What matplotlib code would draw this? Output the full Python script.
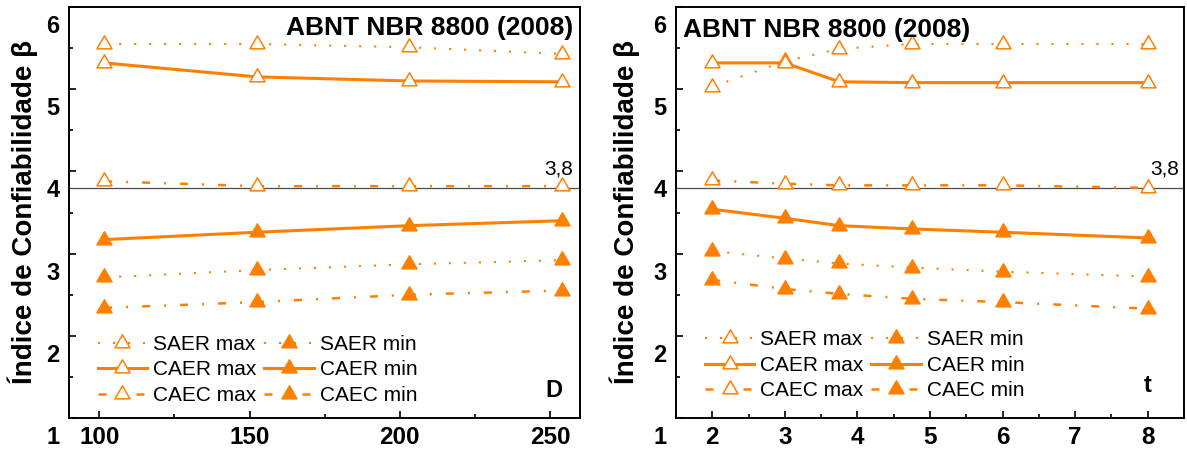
import matplotlib
matplotlib.use("Agg")
import matplotlib.pyplot as plt
import matplotlib.transforms as mtransforms
from matplotlib.path import Path
from matplotlib.ticker import MultipleLocator, FixedLocator

plt.rcParams['font.family'] = ['Liberation Sans', 'DejaVu Sans']

# Diameter D (mm) panel
D = [101.6, 152.4, 203.2, 254.0]
d_saer_max = [5.55, 5.55, 5.51, 5.43]
d_caer_max = [5.32, 5.15, 5.10, 5.09]
d_caec_max = [3.88, 3.82, 3.82, 3.82]
d_saer_min = [2.71, 2.80, 2.87, 2.92]
d_caer_min = [3.17, 3.26, 3.34, 3.40]
d_caec_min = [2.34, 2.41, 2.50, 2.55]

# Wall thickness t panel
T = [2, 3, 3.75, 4.75, 6, 8]
t_saer_max = [5.03, 5.34, 5.49, 5.55, 5.55, 5.55]
t_caer_max = [5.32, 5.32, 5.09, 5.08, 5.08, 5.08]
t_caec_max = [3.89, 3.85, 3.83, 3.83, 3.83, 3.80]
t_saer_min = [3.03, 2.94, 2.88, 2.83, 2.78, 2.72]
t_caer_min = [3.54, 3.43, 3.34, 3.30, 3.26, 3.19]
t_caec_min = [2.68, 2.57, 2.51, 2.45, 2.41, 2.33]

beta_target = 3.8
y_ticks = [1, 2, 3, 4, 5, 6]
d_ticks = [100, 150, 200, 250]
t_ticks = [2, 3, 4, 5, 6, 7, 8]

ORANGE = '#FF8000'

# triangle centred on its centroid
TRI = Path([(0, 8.667), (-7.5, -4.333), (7.5, -4.333), (0, 8.667)],
           [Path.MOVETO, Path.LINETO, Path.LINETO, Path.CLOSEPOLY])

LINE = {
    'SAER': dict(ls=(0, (1, 6.2)), lw=1.5),
    'CAER': dict(ls='-', lw=2.2),
    'CAEC': dict(ls=(0, (3.2, 5.6, 0.8, 5.6)), lw=1.8),
}

fig = plt.figure(figsize=(11.87, 4.55), dpi=100)
W, H = 1187, 455
ax1 = fig.add_axes([69.3 / W, 1 - 418 / H, 510.7 / W, 411 / H])
ax2 = fig.add_axes([676 / W, 1 - 418 / H, 508 / W, 411 / H])


def draw_series(ax, x, data):
    handles = []
    for name, kind, vals in data:
        filled = kind == 'min'
        h, = ax.plot(x, vals, color=ORANGE, marker=TRI, ms=12.5,
                     mfc=ORANGE if filled else 'white', mec=ORANGE, mew=1.1,
                     label=f'{name} {kind}', zorder=3, **LINE[name])
        handles.append(h)
    return handles


def style_axes(ax, xlim, xticks, xminor, label_x):
    ax.set_ylim(1, 6)
    ax.set_xlim(*xlim)
    ax.yaxis.set_major_locator(FixedLocator(y_ticks))
    ax.yaxis.set_minor_locator(MultipleLocator(0.5))
    ax.xaxis.set_major_locator(FixedLocator(xticks))
    ax.xaxis.set_minor_locator(MultipleLocator(xminor))
    ax.tick_params(which='both', direction='in', width=1.2, top=False, right=False)
    ax.tick_params(which='major', length=5)
    ax.tick_params(which='minor', length=3)
    ax.tick_params(axis='y', pad=7, labelsize=17)
    ax.tick_params(axis='x', pad=6, labelsize=17.5)
    for lbl in ax.get_xticklabels() + ax.get_yticklabels():
        lbl.set_fontweight('bold')
    shift = mtransforms.ScaledTranslation(0, -17 / 100, fig.dpi_scale_trans)
    for tick in ax.yaxis.get_major_ticks():
        tick.label1.set_transform(tick.label1.get_transform() + shift)
    for sp in ax.spines.values():
        sp.set_linewidth(1.4)
    ax.set_ylabel('Índice de Confiabilidade β', fontsize=20, fontweight='bold')
    ax.yaxis.set_label_coords(label_x, 0.5)
    ax.axhline(beta_target, color='0.3', lw=0.9, zorder=2)


h1 = draw_series(ax1, D, [
    ('SAER', 'max', d_saer_max), ('CAER', 'max', d_caer_max), ('CAEC', 'max', d_caec_max),
    ('SAER', 'min', d_saer_min), ('CAER', 'min', d_caer_min), ('CAEC', 'min', d_caec_min)])
h2 = draw_series(ax2, T, [
    ('SAER', 'max', t_saer_max), ('CAER', 'max', t_caer_max), ('CAEC', 'max', t_caec_max),
    ('SAER', 'min', t_saer_min), ('CAER', 'min', t_caer_min), ('CAEC', 'min', t_caec_min)])

style_axes(ax1, (90, 260), d_ticks, 25, -0.0613)
style_axes(ax2, (1.5, 8.5), t_ticks, 0.5, -0.0709)

leg_kw = dict(loc='upper left', ncol=2, frameon=False, fontsize=15,
              handlelength=2.36, handletextpad=0.29, columnspacing=0.38,
              labelspacing=0.31, borderpad=0, borderaxespad=0, numpoints=1)
ax1.legend(handles=h1, bbox_to_anchor=(0.056, 0.202), **leg_kw)
ax2.legend(handles=h2, bbox_to_anchor=(0.057, 0.213), **leg_kw)

ax1.text(0.986, 0.932, 'ABNT NBR 8800 (2008)', transform=ax1.transAxes,
         ha='right', va='baseline', fontsize=19, fontweight='bold')
ax2.text(0.014, 0.927, 'ABNT NBR 8800 (2008)', transform=ax2.transAxes,
         ha='left', va='baseline', fontsize=19, fontweight='bold')

for ax, xr in ((ax1, 0.986), (ax2, 0.99)):
    tr = mtransforms.blended_transform_factory(ax.transAxes, ax.transData)
    ax.text(xr, 3.96, '3,8', transform=tr, ha='right', va='baseline', fontsize=15)

ax1.text(0.949, 0.068, 'D', transform=ax1.transAxes, ha='center', va='center',
         fontsize=17, fontweight='bold')
ax2.text(0.929, 0.080, 't', transform=ax2.transAxes, ha='center', va='center',
         fontsize=17, fontweight='bold')

fig.savefig('out.png', dpi=100)
